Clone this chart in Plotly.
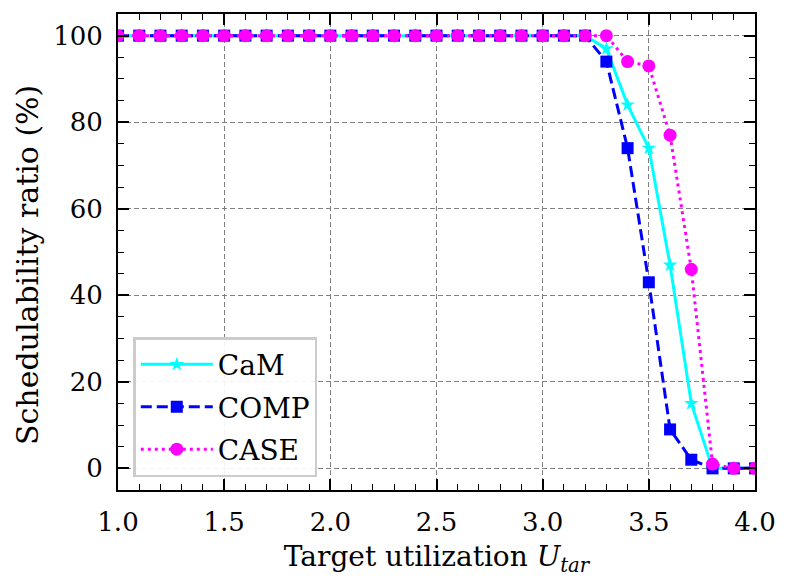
import plotly.graph_objects as go

# target utilization values
u_tar = [1.0, 1.1, 1.2, 1.3, 1.4, 1.5, 1.6, 1.7, 1.8, 1.9, 2.0,
         2.1, 2.2, 2.3, 2.4, 2.5, 2.6, 2.7, 2.8, 2.9, 3.0,
         3.1, 3.2, 3.3, 3.4, 3.5, 3.6, 3.7, 3.8, 3.9, 4.0]

# schedulability ratio (%)
cam = [100] * 23 + [97, 84, 74, 47, 15, 0, 0, 0]
comp = [100] * 23 + [94, 74, 43, 9, 2, 0, 0, 0]
case = [100] * 23 + [100, 94, 93, 77, 46, 1, 0, 0]

FONT = "DejaVu Serif"

fig = go.Figure()

fig.add_trace(go.Scatter(
    x=u_tar, y=cam, name="CaM", mode="lines+markers", legendgroup="a",
    line=dict(color="#00FFFF", width=3, dash="solid"),
    marker=dict(symbol="star", size=11, color="#00FFFF"),
))
fig.add_trace(go.Scatter(
    x=u_tar, y=comp, name="COMP", mode="lines+markers", legendgroup="b",
    line=dict(color="#0000FF", width=3, dash="11px,5px"),
    marker=dict(symbol="square", size=12, color="#0000FF"),
))
fig.add_trace(go.Scatter(
    x=u_tar, y=case, name="CASE", mode="lines+markers", legendgroup="c",
    line=dict(color="#FF00FF", width=3, dash="3px,4px"),
    marker=dict(symbol="circle", size=13, color="#FF00FF"),
))

axis_common = dict(
    showline=True, linecolor="black", linewidth=1.8, mirror="allticks",
    ticks="inside", ticklen=11, tickwidth=1.5, tickcolor="black",
    showgrid=True, gridcolor="#808080", griddash="5px,3px", gridwidth=1.3,
    zeroline=False, ticklabelstandoff=8,
    tickfont=dict(family=FONT, size=26, color="black"),
)

fig.update_xaxes(
    range=[1.0, 4.0], dtick=0.5, tickformat=".1f",
    minor=dict(dtick=0.1, ticks="inside", ticklen=6, tickwidth=1.3,
               tickcolor="black", showgrid=False),
    title=dict(text="Target utilization <i>U</i><sub><i>tar</i></sub>",
               font=dict(family=FONT, size=28, color="black"), standoff=10),
    **axis_common,
)
fig.update_yaxes(
    range=[-5, 105], dtick=20,
    minor=dict(dtick=5, ticks="inside", ticklen=6, tickwidth=1.3,
               tickcolor="black", showgrid=False),
    **axis_common,
)

# y axis title placed as annotation to match the original position
fig.add_annotation(
    text="Schedulability ratio (%)", textangle=-90, showarrow=False,
    xref="paper", yref="paper", x=-0.141, y=0.473,
    xanchor="center", yanchor="middle",
    font=dict(family=FONT, size=30, color="black"),
)

fig.update_layout(
    width=790, height=588,
    margin=dict(l=110, r=43, t=4, b=106),
    plot_bgcolor="white", paper_bgcolor="white",
    font=dict(family=FONT, size=26, color="black"),
    legend=dict(
        x=0.024, y=0.027, xanchor="left", yanchor="bottom",
        bgcolor="rgba(255,255,255,0.9)", bordercolor="#cccccc", borderwidth=2.5,
        font=dict(family=FONT, size=28, color="black"),
        itemwidth=72, traceorder="grouped", tracegroupgap=3,
    ),
    showlegend=True,
)

fig.write_html("out.html")
